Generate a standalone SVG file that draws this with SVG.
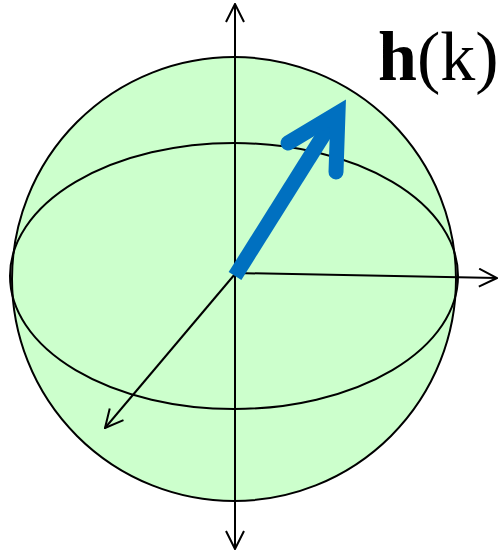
<svg xmlns="http://www.w3.org/2000/svg" width="500" height="553" viewBox="0 0 500 553">
<defs>
<style>
.ax{stroke:#000;stroke-width:2;fill:none}
.head{stroke:#000;stroke-width:2;fill:none}
</style>
<marker id="open" viewBox="0 0 20 20" refX="19" refY="10" markerWidth="20" markerHeight="20" markerUnits="userSpaceOnUse" orient="auto">
<path d="M1,1 L19,10 L1,19" fill="none" stroke="#000" stroke-width="2"/>
</marker>
</defs>
<rect width="500" height="553" fill="#fff"/>
<g id="sphere">
<circle cx="234" cy="279" r="222" fill="#ccffcc" stroke="#000" stroke-width="2"/>
<ellipse cx="234" cy="276" rx="224" ry="133" fill="none" stroke="#000" stroke-width="2"/>
</g>
<g id="axes">
<line class="ax" x1="235" y1="274" x2="235" y2="4" marker-end="url(#open)"/>
<line class="ax" x1="235" y1="274" x2="235" y2="549" marker-end="url(#open)"/>
<line class="ax" x1="235" y1="273" x2="497" y2="278" marker-end="url(#open)"/>
<line class="ax" x1="235" y1="274" x2="105" y2="428" marker-end="url(#open)"/>
</g>
<g id="vector">
<line x1="235" y1="276" x2="333" y2="120" stroke="#0070c0" stroke-width="15"/>
<polyline points="288,143 338,113 336,172" fill="none" stroke="#0070c0" stroke-width="15" stroke-linecap="round" stroke-linejoin="miter"/>
</g>
<g id="label">
<text x="378" y="80" font-family="'Liberation Serif', serif" font-size="70"><tspan font-weight="bold">h</tspan>(k)</text>
</g>
</svg>
